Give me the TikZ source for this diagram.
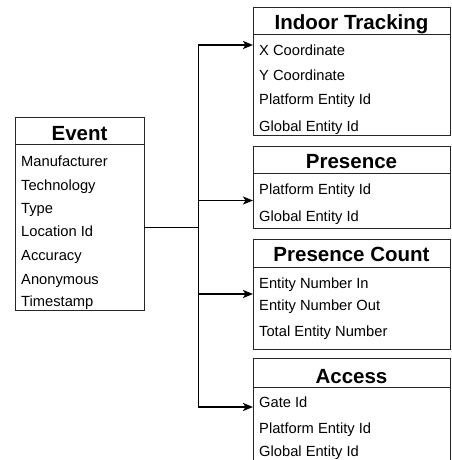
\documentclass[tikz,border=0pt]{standalone}
\usepackage{fontspec}
\setmainfont{Liberation Sans}
\usetikzlibrary{arrows.meta}
\begin{document}
\begin{tikzpicture}[x=1pt,y=-1pt,
  tbox/.style={draw=black!85, line width=0.9pt, inner sep=0pt, anchor=north west},
  hline/.style={draw=black!85, line width=0.9pt},
  ttl/.style={font=\fontsize{20.5}{22}\selectfont\bfseries, inner sep=0pt, anchor=base},
  fld/.style={font=\fontsize{14.7}{16}\selectfont, inner sep=0pt, anchor=base west},
  conn/.style={draw=black, line width=1.7pt},
  arr/.style={conn, -{Stealth[length=10pt,width=8pt,inset=2.5pt]}}]
\useasboundingbox (0,0) rectangle (451,460);
% Event
\node[tbox, minimum width=129pt, minimum height=193pt] (ev) at (15,117) {};
\draw[hline] (15,144) -- (144,144);
\node[ttl] (evt) at (79.5,140.5) {Event};
\node[fld] (e1) at (21,166.7) {Manufacturer};
\node[fld] (e2) at (21,190) {Technology};
\node[fld] (e3) at (21,213.3) {Type};
\node[fld] (e4) at (21,236.7) {Location Id};
\node[fld] (e5) at (21,260.7) {Accuracy};
\node[fld] (e6) at (21,284) {Anonymous};
\node[fld] (e7) at (21,306.5) {Timestamp};
% Indoor Tracking
\node[tbox, minimum width=197pt, minimum height=128pt] (it) at (253,7) {};
\draw[hline] (253,34.5) -- (450,34.5);
\node[ttl] (itt) at (351.5,30) {Indoor Tracking};
\node[fld] (i1) at (259,56) {X Coordinate};
\node[fld] (i2) at (259,80.7) {Y Coordinate};
\node[fld] (i3) at (259,104.3) {Platform Entity Id};
\node[fld] (i4) at (259,131.3) {Global Entity Id};
% Presence
\node[tbox, minimum width=197pt, minimum height=82pt] (pr) at (253,146) {};
\draw[hline] (253,173) -- (450,173);
\node[ttl] (prt) at (351.5,168.3) {Presence};
\node[fld] (p1) at (259,194.3) {Platform Entity Id};
\node[fld] (p2) at (259,221.7) {Global Entity Id};
% Presence Count
\node[tbox, minimum width=197pt, minimum height=110pt] (pc) at (253,239) {};
\draw[hline] (253,267) -- (450,267);
\node[ttl] (pct) at (351.5,261.7) {Presence Count};
\node[fld] (c1) at (259,288.3) {Entity Number In};
\node[fld] (c2) at (259,310) {Entity Number Out};
\node[fld] (c3) at (259,336) {Total Entity Number};
% Access
\draw[hline] (253,462) -- (253,358) -- (450,358) -- (450,462);
\coordinate (ac) at (253,358);
\draw[hline] (253,387) -- (450,387);
\node[ttl] (act) at (351.5,383.3) {Access};
\node[fld] (a1) at (259,407.3) {Gate Id};
\node[fld] (a2) at (259,433.3) {Platform Entity Id};
\node[fld] (a3) at (259,456.7) {Global Entity Id};
% connectors
\coordinate (src) at (144,227.5);
\coordinate (split) at (198.5,227.5);
\coordinate (tIT) at (253,45);
\coordinate (tPR) at (253,200.5);
\coordinate (tPC) at (253,294);
\coordinate (tAC) at (253,407);
\draw[conn] (src) -- (split);
\draw[arr] (split) |- (tIT);
\draw[arr] (split) |- (tPR);
\draw[arr] (split) |- (tPC);
\draw[arr] (split) |- (tAC);
\end{tikzpicture}
\end{document}
